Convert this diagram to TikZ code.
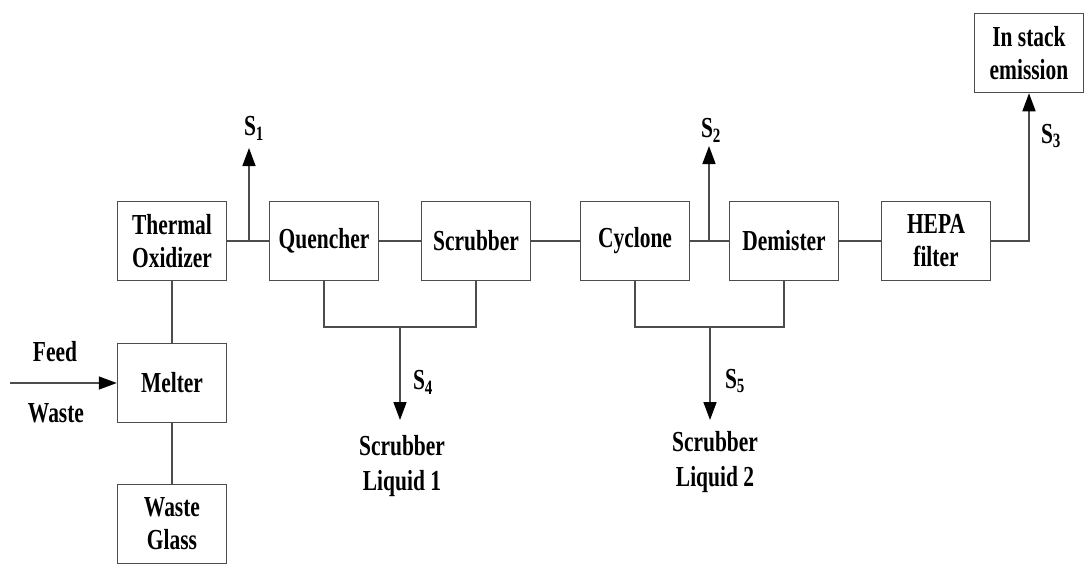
\documentclass[tikz,border=0pt]{standalone}
\usepackage{fontspec}
\setmainfont[FakeStretch=0.74]{Liberation Serif}
\usetikzlibrary{arrows.meta, positioning}

\begin{document}
\begin{tikzpicture}[x=1pt, y=-1pt, line width=1.5pt, draw=black!70,
    unit/.style={draw, minimum width=109pt, minimum height=79pt, align=center, inner sep=2pt,
        font=\bfseries\fontsize{29}{33}\selectfont},
    lbl/.style={align=center, font=\bfseries\fontsize{29}{35}\selectfont},
    flow/.style={-{Triangle[length=18pt, width=13pt, fill=black, color=black]}}]
    \useasboundingbox (0,0) rectangle (1089,573);

    % Units
    \node[unit] (oxid) at (172, 241) {Thermal\\Oxidizer};
    \node[unit] (melter) at (172, 383) {Melter};
    \node[unit] (glass) at (172, 524) {Waste\\Glass};
    \node[unit] (quench) at (324, 241) {Quencher};
    \node[unit] (scrub) at (476, 241) {Scrubber};
    \node[unit] (cyclone) at (635, 241) {Cyclone};
    \node[unit] (demist) at (784, 241) {Demister};
    \node[unit] (hepa) at (936, 241) {HEPA\\filter};
    \node[unit] (stack) at (1029, 53) {In stack\\emission};

    % Junctions and free ends
    \coordinate (feedin) at (10, 383);
    \coordinate (j1) at (249, 241);
    \coordinate (j2) at (709, 241);
    \coordinate (s1end) at (249, 148);
    \coordinate (s2end) at (709, 146);
    \coordinate (c4) at (400, 327);
    \coordinate (c5) at (710, 327);
    \coordinate (s4end) at (400, 420);
    \coordinate (s5end) at (710, 420);

    % Labels
    \node[lbl] (feed) at (55, 352) {Feed};
    \node[lbl] (waste) at (56, 413) {Waste};
    \node[lbl] (s1) at (254, 128) {S\textsubscript{1}};
    \node[lbl] (s2) at (711, 130) {S\textsubscript{2}};
    \node[lbl] (s3) at (1051, 136) {S\textsubscript{3}};
    \node[lbl] (s4) at (423, 382) {S\textsubscript{4}};
    \node[lbl] (s5) at (735, 381) {S\textsubscript{5}};
    \node[lbl] (liq1) at (402, 466) {Scrubber\\Liquid 1};
    \node[lbl] (liq2) at (715, 462) {Scrubber\\Liquid 2};

    % Gas line
    \draw (oxid) -- (quench);
    \draw (quench) -- (scrub);
    \draw (scrub) -- (cyclone);
    \draw (cyclone) -- (demist);
    \draw (demist) -- (hepa);
    \draw[flow] (hepa.east) -| (stack.south);
    \draw[flow] (j1) -- (s1end);
    \draw[flow] (j2) -- (s2end);

    % Melter
    \draw (oxid) -- (melter);
    \draw (melter) -- (glass);
    \draw[flow] (feedin) -- (melter);

    % Liquid streams
    \draw (quench.south) |- (c4) -| (scrub.south);
    \draw (cyclone.south) |- (c5) -| (demist.south);
    \draw[flow] (c4) -- (s4end);
    \draw[flow] (c5) -- (s5end);
\end{tikzpicture}
\end{document}
